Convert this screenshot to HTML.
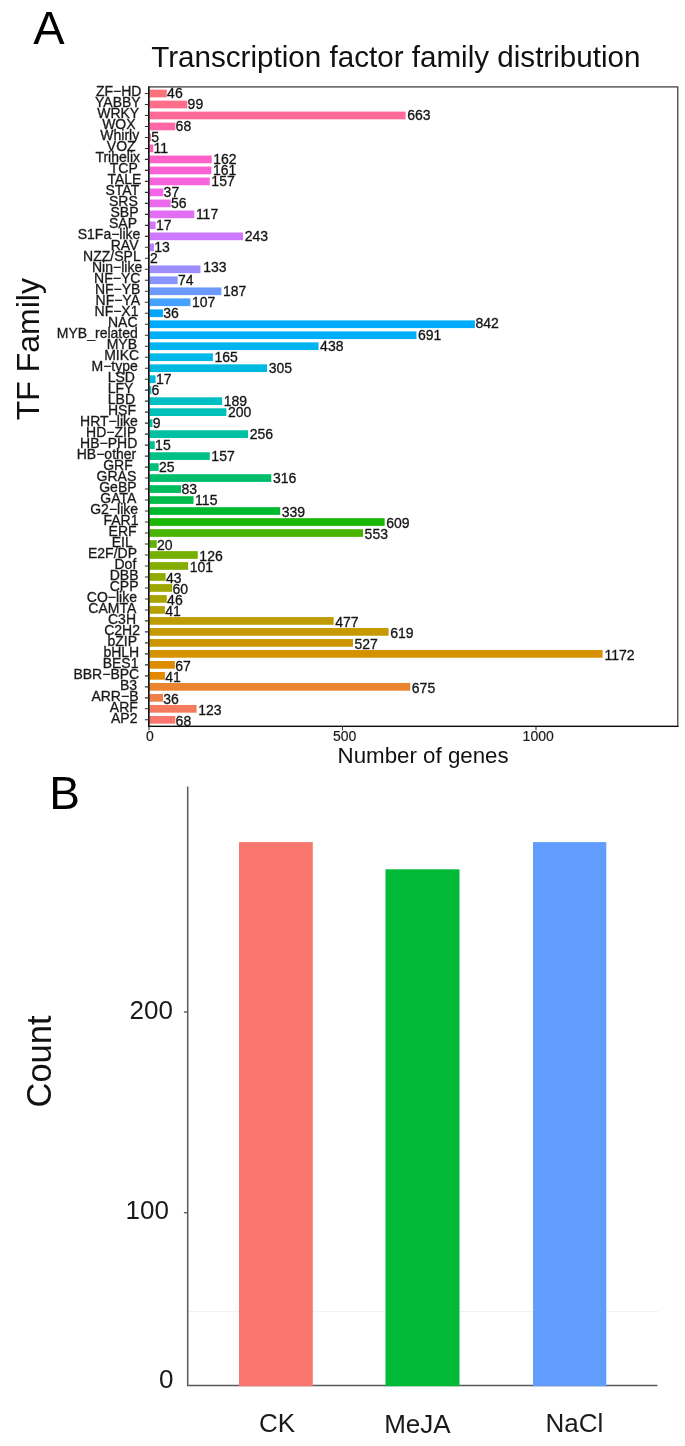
<!DOCTYPE html>
<html><head><meta charset="utf-8"><title>Transcription factor family distribution</title>
<style>html,body{margin:0;padding:0;background:#fff}body{width:685px;height:1446px;overflow:hidden;font-family:"Liberation Sans",sans-serif}svg{display:block;filter:blur(0.45px)}text{font-family:"Liberation Sans",sans-serif}.yl{font-size:14px;fill:#1a1a1a;text-anchor:end;stroke:#1a1a1a;stroke-width:.3px}.vl{font-size:14px;fill:#151515;stroke:#151515;stroke-width:.3px}.xl{font-size:14px;fill:#1a1a1a;text-anchor:middle;stroke:#222;stroke-width:.2px}.bt{font-size:26px;fill:#1a1a1a}</style></head><body>
<svg width="685" height="1446" viewBox="0 0 685 1446">
<rect width="685" height="1446" fill="#fff"/>
<text x="33.3" y="43.7" font-size="47" fill="#000">A</text>
<text x="49.2" y="809.2" font-size="46" fill="#000">B</text>
<text x="151.2" y="67.4" font-size="29.62" fill="#111">Transcription factor family distribution</text>
<text transform="translate(38.9,420.3) rotate(-90)" font-size="32" fill="#111">TF Family</text>
<text x="337.6" y="763.0" font-size="22.3" fill="#111">Number of genes</text>
<g shape-rendering="auto">
<rect x="149.40" y="89.64" width="17.40" height="7.70" fill="#FB727D"/>
<rect x="149.40" y="100.63" width="37.91" height="7.70" fill="#FE6E8B"/>
<rect x="149.40" y="111.62" width="256.18" height="7.70" fill="#FF6A99"/>
<rect x="149.40" y="122.61" width="25.92" height="7.70" fill="#FF67A6"/>
<rect x="149.40" y="133.59" width="1.54" height="7.70" fill="#FF64B2"/>
<rect x="149.40" y="144.58" width="3.86" height="7.70" fill="#FF62BE"/>
<rect x="149.40" y="155.57" width="62.29" height="7.70" fill="#FF61C9"/>
<rect x="149.40" y="166.56" width="61.91" height="7.70" fill="#FC61D4"/>
<rect x="149.40" y="177.55" width="60.36" height="7.70" fill="#F862DD"/>
<rect x="149.40" y="188.53" width="13.92" height="7.70" fill="#F365E6"/>
<rect x="149.40" y="199.52" width="21.27" height="7.70" fill="#EC69EE"/>
<rect x="149.40" y="210.51" width="44.88" height="7.70" fill="#E46DF6"/>
<rect x="149.40" y="221.50" width="6.18" height="7.70" fill="#DA73FC"/>
<rect x="149.40" y="232.49" width="93.64" height="7.70" fill="#CE79FF"/>
<rect x="149.40" y="243.47" width="4.63" height="7.70" fill="#C07FFF"/>
<rect x="149.40" y="254.46" width="0.50" height="7.70" fill="#B086FF"/>
<rect x="149.40" y="265.45" width="51.07" height="7.70" fill="#9D8DFF"/>
<rect x="149.40" y="276.44" width="28.24" height="7.70" fill="#8794FF"/>
<rect x="149.40" y="287.43" width="71.97" height="7.70" fill="#6C9AFF"/>
<rect x="149.40" y="298.41" width="41.01" height="7.70" fill="#46A0FF"/>
<rect x="149.40" y="309.40" width="13.53" height="7.70" fill="#00A5FF"/>
<rect x="149.40" y="320.39" width="325.45" height="7.70" fill="#00ABFD"/>
<rect x="149.40" y="331.38" width="267.02" height="7.70" fill="#00AFF8"/>
<rect x="149.40" y="342.37" width="169.11" height="7.70" fill="#00B3F1"/>
<rect x="149.40" y="353.35" width="63.46" height="7.70" fill="#00B7EA"/>
<rect x="149.40" y="364.34" width="117.63" height="7.70" fill="#00B9E1"/>
<rect x="149.40" y="375.33" width="6.18" height="7.70" fill="#00BCD8"/>
<rect x="149.40" y="386.32" width="1.92" height="7.70" fill="#00BECF"/>
<rect x="149.40" y="397.31" width="72.74" height="7.70" fill="#00BFC4"/>
<rect x="149.40" y="408.29" width="77.00" height="7.70" fill="#00C0BA"/>
<rect x="149.40" y="419.28" width="3.08" height="7.70" fill="#00C0AE"/>
<rect x="149.40" y="430.27" width="98.67" height="7.70" fill="#00C1A2"/>
<rect x="149.40" y="441.26" width="5.40" height="7.70" fill="#00C096"/>
<rect x="149.40" y="452.25" width="60.36" height="7.70" fill="#00C088"/>
<rect x="149.40" y="463.23" width="9.28" height="7.70" fill="#00BF7A"/>
<rect x="149.40" y="474.22" width="121.89" height="7.70" fill="#00BE6B"/>
<rect x="149.40" y="485.21" width="31.72" height="7.70" fill="#00BD5B"/>
<rect x="149.40" y="496.20" width="44.11" height="7.70" fill="#00BB48"/>
<rect x="149.40" y="507.19" width="130.79" height="7.70" fill="#00B92F"/>
<rect x="149.40" y="518.17" width="235.28" height="7.70" fill="#19B700"/>
<rect x="149.40" y="529.16" width="213.61" height="7.70" fill="#47B500"/>
<rect x="149.40" y="540.15" width="7.34" height="7.70" fill="#60B200"/>
<rect x="149.40" y="551.14" width="48.36" height="7.70" fill="#73B000"/>
<rect x="149.40" y="562.13" width="38.69" height="7.70" fill="#83AD00"/>
<rect x="149.40" y="573.11" width="16.24" height="7.70" fill="#91AA00"/>
<rect x="149.40" y="584.10" width="22.82" height="7.70" fill="#9EA700"/>
<rect x="149.40" y="595.09" width="17.40" height="7.70" fill="#A9A300"/>
<rect x="149.40" y="606.08" width="15.47" height="7.70" fill="#B4A000"/>
<rect x="149.40" y="617.07" width="184.20" height="7.70" fill="#BE9C00"/>
<rect x="149.40" y="628.05" width="239.15" height="7.70" fill="#C69900"/>
<rect x="149.40" y="639.04" width="203.55" height="7.70" fill="#CF9500"/>
<rect x="149.40" y="650.03" width="453.16" height="7.70" fill="#D69100"/>
<rect x="149.40" y="661.02" width="25.53" height="7.70" fill="#DD8C00"/>
<rect x="149.40" y="672.01" width="15.47" height="7.70" fill="#E48800"/>
<rect x="149.40" y="682.99" width="260.83" height="7.70" fill="#EA842E"/>
<rect x="149.40" y="693.98" width="13.53" height="7.70" fill="#EF7F48"/>
<rect x="149.40" y="704.97" width="47.20" height="7.70" fill="#F47B5C"/>
<rect x="149.40" y="715.96" width="25.92" height="7.70" fill="#F8766D"/>
</g>
<rect x="148.80" y="86.90" width="529.00" height="639.50" fill="none" stroke="#3a3a3a" stroke-width="1.25"/>
<path d="M148.80 86.40V726.40H678.40" stroke="#0d0d0d" stroke-width="1.4" fill="none" stroke-linejoin="miter"/>
<path d="M144.90 93.49H148.80M144.90 104.48H148.80M144.90 115.47H148.80M144.90 126.46H148.80M144.90 137.44H148.80M144.90 148.43H148.80M144.90 159.42H148.80M144.90 170.41H148.80M144.90 181.40H148.80M144.90 192.38H148.80M144.90 203.37H148.80M144.90 214.36H148.80M144.90 225.35H148.80M144.90 236.34H148.80M144.90 247.32H148.80M144.90 258.31H148.80M144.90 269.30H148.80M144.90 280.29H148.80M144.90 291.28H148.80M144.90 302.26H148.80M144.90 313.25H148.80M144.90 324.24H148.80M144.90 335.23H148.80M144.90 346.22H148.80M144.90 357.20H148.80M144.90 368.19H148.80M144.90 379.18H148.80M144.90 390.17H148.80M144.90 401.16H148.80M144.90 412.14H148.80M144.90 423.13H148.80M144.90 434.12H148.80M144.90 445.11H148.80M144.90 456.10H148.80M144.90 467.08H148.80M144.90 478.07H148.80M144.90 489.06H148.80M144.90 500.05H148.80M144.90 511.04H148.80M144.90 522.02H148.80M144.90 533.01H148.80M144.90 544.00H148.80M144.90 554.99H148.80M144.90 565.98H148.80M144.90 576.96H148.80M144.90 587.95H148.80M144.90 598.94H148.80M144.90 609.93H148.80M144.90 620.92H148.80M144.90 631.90H148.80M144.90 642.89H148.80M144.90 653.88H148.80M144.90 664.87H148.80M144.90 675.86H148.80M144.90 686.84H148.80M144.90 697.83H148.80M144.90 708.82H148.80M144.90 719.81H148.80" stroke="#2e2e2e" stroke-width="1.1" fill="none"/>
<text class="yl" x="141.4" y="96.19">ZF−HD</text>
<text class="yl" x="140.7" y="107.17">YABBY</text>
<text class="yl" x="139.2" y="118.15">WRKY</text>
<text class="yl" x="135.6" y="129.13">WOX</text>
<text class="yl" x="139.2" y="140.11">Whirly</text>
<text class="yl" x="135.6" y="151.09">VOZ</text>
<text class="yl" x="140.0" y="162.06">Trihelix</text>
<text class="yl" x="137.8" y="173.04">TCP</text>
<text class="yl" x="141.4" y="184.02">TALE</text>
<text class="yl" x="139.2" y="195.00">STAT</text>
<text class="yl" x="137.8" y="205.98">SRS</text>
<text class="yl" x="138.5" y="216.96">SBP</text>
<text class="yl" x="137.0" y="227.93">SAP</text>
<text class="yl" x="140.4" y="238.91">S1Fa−like</text>
<text class="yl" x="138.5" y="249.89">RAV</text>
<text class="yl" x="140.7" y="260.87">NZZ/SPL</text>
<text class="yl" x="142.2" y="271.85">Nin−like</text>
<text class="yl" x="140.4" y="282.83">NF−YC</text>
<text class="yl" x="140.4" y="293.80">NF−YB</text>
<text class="yl" x="140.0" y="304.78">NF−YA</text>
<text class="yl" x="138.5" y="315.76">NF−X1</text>
<text class="yl" x="137.5" y="326.74">NAC</text>
<text class="yl" x="137.8" y="337.75">MYB_related</text>
<text class="yl" x="137.0" y="348.76">MYB</text>
<text class="yl" x="139.2" y="359.76">MIKC</text>
<text class="yl" x="137.8" y="370.77">M−type</text>
<text class="yl" x="134.9" y="381.78">LSD</text>
<text class="yl" x="133.4" y="392.78">LFY</text>
<text class="yl" x="135.0" y="403.79">LBD</text>
<text class="yl" x="136.0" y="414.80">HSF</text>
<text class="yl" x="137.8" y="425.81">HRT−like</text>
<text class="yl" x="136.3" y="436.81">HD−ZIP</text>
<text class="yl" x="137.3" y="447.82">HB−PHD</text>
<text class="yl" x="136.3" y="458.83">HB−other</text>
<text class="yl" x="132.7" y="469.84">GRF</text>
<text class="yl" x="136.3" y="480.84">GRAS</text>
<text class="yl" x="136.6" y="491.85">GeBP</text>
<text class="yl" x="136.3" y="502.86">GATA</text>
<text class="yl" x="138.1" y="513.87">G2−like</text>
<text class="yl" x="138.5" y="524.87">FAR1</text>
<text class="yl" x="136.6" y="535.88">ERF</text>
<text class="yl" x="132.7" y="546.89">EIL</text>
<text class="yl" x="137.0" y="557.90">E2F/DP</text>
<text class="yl" x="136.3" y="568.90">Dof</text>
<text class="yl" x="138.5" y="579.91">DBB</text>
<text class="yl" x="138.5" y="590.92">CPP</text>
<text class="yl" x="137.0" y="601.93">CO−like</text>
<text class="yl" x="136.3" y="612.93">CAMTA</text>
<text class="yl" x="136.0" y="623.94">C3H</text>
<text class="yl" x="140.0" y="634.95">C2H2</text>
<text class="yl" x="137.0" y="645.96">bZIP</text>
<text class="yl" x="139.2" y="656.96">bHLH</text>
<text class="yl" x="138.5" y="667.97">BES1</text>
<text class="yl" x="139.2" y="678.98">BBR−BPC</text>
<text class="yl" x="137.0" y="689.98">B3</text>
<text class="yl" x="138.5" y="700.99">ARR−B</text>
<text class="yl" x="137.8" y="712.00">ARF</text>
<text class="yl" x="137.5" y="723.01">AP2</text>
<text class="vl" x="167.10" y="98.09">46</text>
<text class="vl" x="187.61" y="109.10">99</text>
<text class="vl" x="407.18" y="120.11">663</text>
<text class="vl" x="175.62" y="131.13">68</text>
<text class="vl" x="151.24" y="142.14">5</text>
<text class="vl" x="153.56" y="153.15">11</text>
<text class="vl" x="213.29" y="164.16">162</text>
<text class="vl" x="212.91" y="175.17">161</text>
<text class="vl" x="211.36" y="186.18">157</text>
<text class="vl" x="163.62" y="197.19">37</text>
<text class="vl" x="170.97" y="208.20">56</text>
<text class="vl" x="195.88" y="219.21">117</text>
<text class="vl" x="155.88" y="230.22">17</text>
<text class="vl" x="244.64" y="241.23">243</text>
<text class="vl" x="154.33" y="252.24">13</text>
<text class="vl" x="150.07" y="263.25">2</text>
<text class="vl" x="203.27" y="272.37">133</text>
<text class="vl" x="177.94" y="285.28">74</text>
<text class="vl" x="222.97" y="296.29">187</text>
<text class="vl" x="192.01" y="307.30">107</text>
<text class="vl" x="163.23" y="318.31">36</text>
<text class="vl" x="475.45" y="327.52">842</text>
<text class="vl" x="418.02" y="340.33">691</text>
<text class="vl" x="320.11" y="351.34">438</text>
<text class="vl" x="214.46" y="362.35">165</text>
<text class="vl" x="268.63" y="373.36">305</text>
<text class="vl" x="155.88" y="384.37">17</text>
<text class="vl" x="151.62" y="395.38">6</text>
<text class="vl" x="223.74" y="406.39">189</text>
<text class="vl" x="228.00" y="417.41">200</text>
<text class="vl" x="152.78" y="428.42">9</text>
<text class="vl" x="249.67" y="439.43">256</text>
<text class="vl" x="155.11" y="450.44">15</text>
<text class="vl" x="211.36" y="461.45">157</text>
<text class="vl" x="158.98" y="472.46">25</text>
<text class="vl" x="272.89" y="483.47">316</text>
<text class="vl" x="181.42" y="494.48">83</text>
<text class="vl" x="195.10" y="505.49">115</text>
<text class="vl" x="281.79" y="516.50">339</text>
<text class="vl" x="386.28" y="527.51">609</text>
<text class="vl" x="364.61" y="538.52">553</text>
<text class="vl" x="157.04" y="549.53">20</text>
<text class="vl" x="199.36" y="560.55">126</text>
<text class="vl" x="189.69" y="571.56">101</text>
<text class="vl" x="165.94" y="582.57">43</text>
<text class="vl" x="172.52" y="593.58">60</text>
<text class="vl" x="167.10" y="604.59">46</text>
<text class="vl" x="165.17" y="615.60">41</text>
<text class="vl" x="335.20" y="626.61">477</text>
<text class="vl" x="390.15" y="637.62">619</text>
<text class="vl" x="354.55" y="648.63">527</text>
<text class="vl" x="604.56" y="659.64">1172</text>
<text class="vl" x="175.23" y="670.65">67</text>
<text class="vl" x="165.17" y="681.66">41</text>
<text class="vl" x="411.83" y="692.67">675</text>
<text class="vl" x="163.23" y="703.69">36</text>
<text class="vl" x="198.20" y="714.70">123</text>
<text class="vl" x="175.62" y="725.71">68</text>
<line x1="149.00" y1="726.40" x2="149.00" y2="730.30" stroke="#333" stroke-width="1.05"/>
<text class="xl" x="149.80" y="741.4">0</text>
<line x1="342.50" y1="726.40" x2="342.50" y2="730.30" stroke="#333" stroke-width="1.05"/>
<text class="xl" x="344.70" y="741.4">500</text>
<line x1="536.00" y1="726.40" x2="536.00" y2="730.30" stroke="#333" stroke-width="1.05"/>
<text class="xl" x="538.20" y="741.4">1000</text>
<line x1="188" y1="1311.6" x2="658" y2="1311.6" stroke="#f1f1f1" stroke-width="1"/>
<path d="M187.70 786.60V1385.50H657.40" stroke="#5a5a5a" stroke-width="1.5" fill="none"/>
<rect x="239.00" y="842.10" width="73.80" height="544.10" fill="#F8766D"/>
<rect x="385.50" y="869.30" width="74.00" height="516.90" fill="#00BA38"/>
<rect x="533.00" y="842.10" width="73.30" height="544.10" fill="#619CFF"/>
<line x1="183.90" y1="1012.00" x2="187.70" y2="1012.00" stroke="#5a5a5a" stroke-width="1.4"/>
<line x1="183.90" y1="1212.70" x2="187.70" y2="1212.70" stroke="#5a5a5a" stroke-width="1.4"/>
<text class="bt" text-anchor="end" x="173.0" y="1019.3">200</text>
<text class="bt" text-anchor="end" x="168.9" y="1218.6">100</text>
<text class="bt" text-anchor="end" x="173.4" y="1387.6">0</text>
<text class="bt" text-anchor="middle" x="277.0" y="1432.0">CK</text>
<text class="bt" text-anchor="middle" x="417.4" y="1433.3">MeJA</text>
<text class="bt" text-anchor="middle" x="574.5" y="1432.0">NaCl</text>
<text transform="translate(50.6,1107.5) rotate(-90)" font-size="34.5" fill="#111">Count</text>
</svg></body></html>
